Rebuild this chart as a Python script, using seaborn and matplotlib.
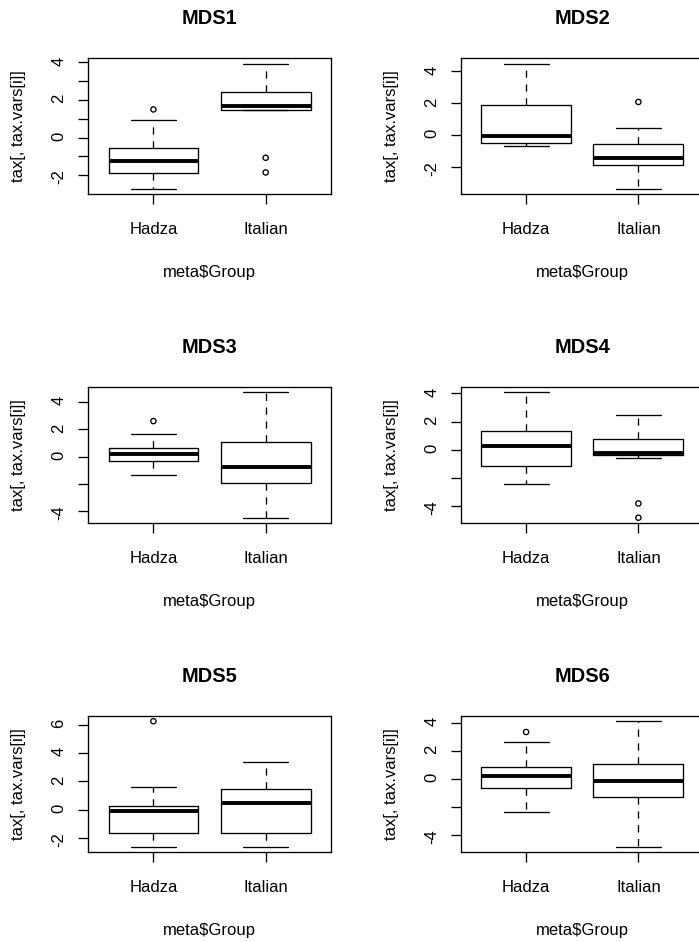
import matplotlib
matplotlib.use("Agg")
import matplotlib.pyplot as plt
import pandas as pd
import seaborn as sns

panels = ["MDS1", "MDS2", "MDS3", "MDS4", "MDS5", "MDS6"]
groups = ["Hadza", "Italian"]

# lower whisker, Q1, median, Q3, upper whisker
hadza_stats = [
    [-2.73, -1.90, -1.25, -0.54, 0.92],
    [-0.72, -0.50, -0.06, 1.91, 4.50],
    [-1.38, -0.30, 0.20, 0.59, 1.68],
    [-2.40, -1.15, 0.26, 1.32, 4.09],
    [-2.64, -1.64, -0.09, 0.26, 1.57],
    [-2.39, -0.65, 0.22, 0.85, 2.60],
]
italian_stats = [
    [1.48, 1.48, 1.68, 2.45, 3.94],
    [-3.40, -1.91, -1.47, -0.59, 0.42],
    [-4.49, -1.97, -0.79, 1.09, 4.72],
    [-0.58, -0.38, -0.24, 0.74, 2.47],
    [-2.64, -1.64, 0.48, 1.48, 3.38],
    [-4.84, -1.32, -0.17, 1.06, 4.10],
]
hadza_outliers = [[1.50], [], [2.60], [], [6.27], [3.33]]
italian_outliers = [[-1.07, -1.85], [2.08], [], [-3.80, -4.81], [], []]

ytick_pos = [
    [-2, -1, 0, 1, 2, 3, 4],
    [-2, 0, 2, 4],
    [-4, -2, 0, 2, 4],
    [-4, -2, 0, 2, 4],
    [-2, 0, 2, 4, 6],
    [-4, -2, 0, 2, 4],
]
ytick_text = [
    ["-2", "", "0", "", "2", "", "4"],
    ["-2", "0", "2", "4"],
    ["-4", "", "0", "2", "4"],
    ["-4", "", "0", "2", "4"],
    ["-2", "0", "2", "4", "6"],
    ["-4", "", "0", "2", "4"],
]

sns.set_style("ticks")
plt.rcParams["font.family"] = ["Liberation Sans", "DejaVu Sans"]
plt.rcParams["text.color"] = "black"
plt.rcParams["axes.labelcolor"] = "black"

W, H = 699, 942
fig = plt.figure(figsize=(W / 100, H / 100), dpi=100)
lefts = [88.3, 461]
bottoms = [194, 522.7, 851.7]

for i, name in enumerate(panels):
    r, c = divmod(i, 2)
    ax = fig.add_axes([lefts[c] / W, (H - bottoms[r]) / H, 242.5 / W, 135.5 / H])

    box_df = pd.DataFrame({"group": ["Hadza"] * 5 + ["Italian"] * 5,
                           "value": hadza_stats[i] + italian_stats[i]})
    sns.boxplot(data=box_df, x="group", y="value", order=groups, whis=(0, 100),
                width=0.8, fill=False, color="black", linewidth=0.95,
                medianprops=dict(linewidth=2.8, color="black"),
                whiskerprops=dict(linestyle=(0, (5.5, 5)), color="black"),
                boxprops=dict(color="black"), capprops=dict(color="black"), ax=ax)

    out_df = pd.DataFrame({"group": ["Hadza"] * len(hadza_outliers[i]) + ["Italian"] * len(italian_outliers[i]),
                           "value": hadza_outliers[i] + italian_outliers[i]})
    sns.stripplot(data=out_df, x="group", y="value", order=groups, jitter=False,
                  size=3.8, color="black", ax=ax)
    for coll in ax.collections:
        coll.set_facecolor("none")
        coll.set_edgecolor("black")
        coll.set_linewidth(0.95)

    allv = hadza_stats[i] + italian_stats[i] + hadza_outliers[i] + italian_outliers[i]
    lo, hi = min(allv), max(allv)
    ax.set_ylim(lo - 0.04 * (hi - lo), hi + 0.04 * (hi - lo))
    ax.set_xlim(-0.58, 1.58)

    ax.set_yticks(ytick_pos[i], ytick_text[i])
    ax.tick_params(axis="y", labelrotation=90, length=7.2, width=0.95, pad=8.5,
                   labelsize=12, color="black", labelcolor="black")
    ax.tick_params(axis="x", length=7.2, width=0.95, pad=13, labelsize=12,
                   color="black", labelcolor="black")
    for sp in ax.spines.values():
        sp.set_visible(True)
        sp.set_color("black")
        sp.set_linewidth(0.95)

    ax.set_title(name, fontsize=14.4, fontweight="bold", pad=24.5, color="black")
    ax.set_xlabel("meta$Group", fontsize=12)
    ax.set_ylabel("tax[, tax.vars[i]]", fontsize=12)
    ax.xaxis.set_label_coords(0.5, -0.524)
    ax.yaxis.set_label_coords(-0.257, 0.5)

fig.savefig("out.png", dpi=100)
